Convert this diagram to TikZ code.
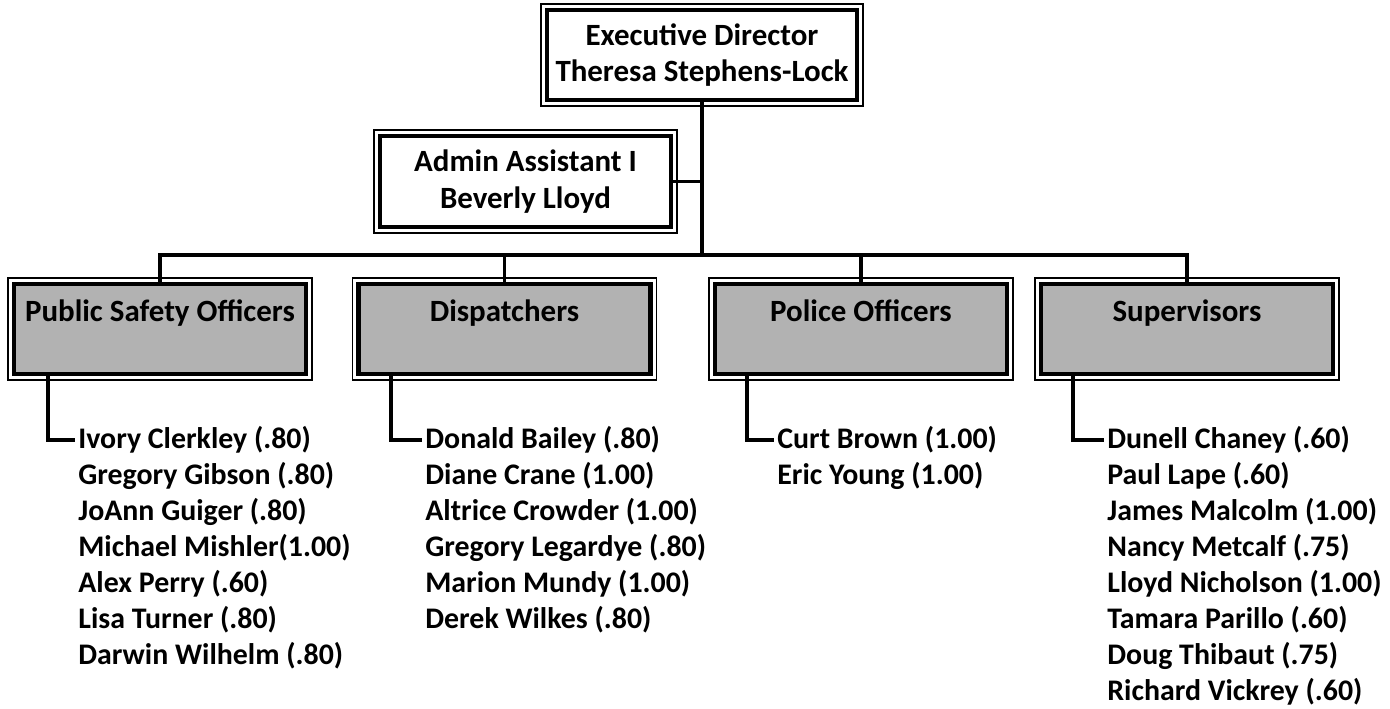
\documentclass[tikz,border=0pt]{standalone}
\usepackage{fontspec}
\setmainfont{Carlito}
\tikzset{
  topbox/.style={draw, line width=2.3pt, fill=white, outer sep=0pt, inner sep=2pt,
    minimum width=6.2cm, minimum height=1.8cm, align=center,
    font=\bfseries\fontsize{17.6}{20.7}\selectfont},
  groupbox/.style={topbox, fill=black!30, minimum width=5.84cm},
  member/.style={anchor=west, inner sep=2pt, font=\bfseries\fontsize{17}{20.7}\selectfont},
  link/.style={line width=2pt}
}
\begin{document}
\begin{tikzpicture}
    \useasboundingbox (0,0) rectangle (27.8,-14.18);

    % Cajas superiores
    \node[topbox] (exec) at (14.04,-1.1) {Executive Director\\Theresa Stephens-Lock};
    \node[topbox, minimum width=5.82cm, minimum height=1.82cm] (admin) at (10.51,-3.63) {Admin Assistant I\\Beverly Lloyd};
    \coordinate (bus) at (0,-5.1);

    % Grupos
    \node[groupbox] (pso) at (3.2,-6.58) {Public Safety Officers\\~};
    \node[groupbox] (disp) at (10.09,-6.58) {Dispatchers\\~};
    \node[groupbox] (police) at (17.22,-6.58) {Police Officers\\~};
    \node[groupbox] (sup) at (23.74,-6.58) {Supervisors\\~};

    % Marco exterior fino
    \foreach \n in {exec,admin,pso,disp,police,sup} {
        \draw[line width=0.8pt] ([shift={(-0.12,0.12)}]\n.north west) rectangle ([shift={(0.12,-0.12)}]\n.south east);
    }

    % Conexiones
    \draw[link] (exec.south) -- (exec.south |- bus);
    \draw[link] (admin.east) -- (admin.east -| exec.south);
    \draw[link] (pso.north) -- (pso.north |- bus) -- (sup.north |- bus) -- (sup.north);
    \draw[link] (disp.north) -- (disp.north |- bus);
    \draw[link] (police.north) -- (police.north |- bus);

    % Listas de personal
    \foreach \name [count=\k] in {{Ivory Clerkley (.80)}, {Gregory Gibson (.80)}, {JoAnn Guiger (.80)},
        {Michael Mishler(1.00)}, {Alex Perry (.60)}, {Lisa Turner (.80)}, {Darwin Wilhelm (.80)}} {
        \node[member] (pso-\k) at (1.49, -8.80-\k*0.72+0.72) {\name};
    }
    \foreach \name [count=\k] in {{Donald Bailey (.80)}, {Diane Crane (1.00)}, {Altrice Crowder (1.00)},
        {Gregory Legardye (.80)}, {Marion Mundy (1.00)}, {Derek Wilkes (.80)}} {
        \node[member] (disp-\k) at (8.43, -8.80-\k*0.72+0.72) {\name};
    }
    \foreach \name [count=\k] in {{Curt Brown (1.00)}, {Eric Young (1.00)}} {
        \node[member] (police-\k) at (15.47, -8.80-\k*0.72+0.72) {\name};
    }
    \foreach \name [count=\k] in {{Dunell Chaney (.60)}, {Paul Lape (.60)}, {James Malcolm (1.00)},
        {Nancy Metcalf (.75)}, {Lloyd Nicholson (1.00)}, {Tamara Parillo (.60)}, {Doug Thibaut (.75)},
        {Richard Vickrey (.60)}} {
        \node[member] (sup-\k) at (22.07, -8.80-\k*0.72+0.72) {\name};
    }

    \draw[link] ([xshift=0.68cm]pso.south west) |- (pso-1.west);
    \draw[link] ([xshift=0.65cm]disp.south west) |- (disp-1.west);
    \draw[link] ([xshift=0.64cm]police.south west) |- (police-1.west);
    \draw[link] ([xshift=0.64cm]sup.south west) |- (sup-1.west);

\end{tikzpicture}
\end{document}
